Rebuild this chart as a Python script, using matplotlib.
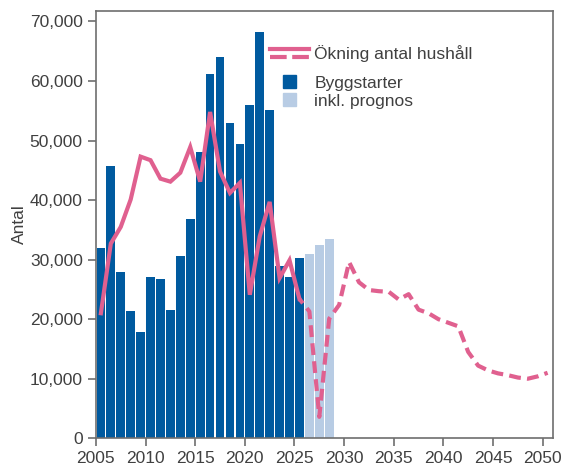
import numpy as np
import matplotlib
matplotlib.use("Agg")
import matplotlib.pyplot as plt
from matplotlib.lines import Line2D
from matplotlib.patches import Patch
from matplotlib.legend_handler import HandlerBase
from matplotlib.ticker import FuncFormatter

# byggstarter (utfall) 2005-2025
bar_years = list(range(2005, 2026))
byggstarter = [31900, 45700, 27900, 21400, 17800, 27100, 26700, 21500, 30600, 36800,
               48000, 61200, 64000, 53000, 49400, 55900, 68200, 55200, 29000, 27100,
               30200]
# prognos
prog_years = [2026, 2027, 2028]
prognos = [30900, 32400, 33500]

# ökning antal hushåll, utfall
hh_years = list(range(2005, 2026))
hushall = [21000, 32700, 35500, 40100, 47300, 46700, 43600, 43100, 44600, 48900,
           43100, 54800, 44800, 41200, 42900, 24100, 33900, 39700, 26900, 29900,
           23400]
# ökning antal hushåll, prognos
hh_prog_years = list(range(2025, 2051))
hushall_prog = [23400, 21300, 3600, 20100, 22400, 29600, 26200, 24900, 24700, 24600,
                23300, 24200, 21600, 21000, 20000, 19400, 18800, 14500, 12200, 11400,
                10900, 10600, 10200, 10000, 10400, 11000]

dark_blue = "#005a9f"
light_blue = "#b8cce4"
pink = "#e0608f"
text_col = "#404040"
spine_col = "#6e6e6e"

plt.rcParams['font.family'] = ['Liberation Sans', 'DejaVu Sans']
plt.rcParams['font.size'] = 12.5
plt.rcParams['lines.scale_dashes'] = False

fig = plt.figure(figsize=(5.61, 4.67), dpi=100)
ax = fig.add_axes([0.171, 0.0615, 0.814, 0.9155])

ax.bar(np.array(bar_years) + 0.5, byggstarter, width=0.88, color=dark_blue, zorder=2)
ax.bar(np.array(prog_years) + 0.5, prognos, width=0.88, color=light_blue, zorder=2)

ax.plot(np.array(hh_years) + 0.5, hushall, color=pink, lw=3, zorder=3,
        solid_joinstyle='miter')
ax.plot(np.array(hh_prog_years) + 0.5, hushall_prog, color=pink, lw=3, zorder=3,
        linestyle=(4.5, (8.5, 4.5)))

ax.set_xlim(2005, 2051)
ax.set_ylim(0, 71800)
ax.set_xticks(range(2005, 2051, 5))
ax.set_yticks(range(0, 70001, 10000))
ax.yaxis.set_major_formatter(FuncFormatter(lambda v, p: f"{int(v):,}"))
ax.set_ylabel("Antal", color=text_col, labelpad=2)

for s in ax.spines.values():
    s.set_color(spine_col)
    s.set_linewidth(1.2)
ax.tick_params(direction='out', length=6, width=1.2, color=spine_col,
               labelcolor=text_col)


class TwoLineHandler(HandlerBase):
    def create_artists(self, legend, orig_handle, xdescent, ydescent,
                       width, height, fontsize, trans):
        y1 = height * 0.85 - ydescent
        y2 = height * 0.2 - ydescent
        l1 = Line2D([-xdescent, width - xdescent], [y1, y1], color=pink, lw=3)
        l2 = Line2D([-xdescent, width - xdescent], [y2, y2], color=pink, lw=3,
                    linestyle=(0, (12, 4)))
        for l in (l1, l2):
            l.set_transform(trans)
        return [l1, l2]


line_h = Line2D([], [], color=pink)
leg1 = ax.legend([line_h], ["Ökning antal hushåll"], handler_map={Line2D: TwoLineHandler()},
                 loc='upper left', bbox_to_anchor=(0.366, 0.935), frameon=False,
                 handlelength=2.25, handletextpad=0.3, borderaxespad=0)
for t in leg1.get_texts():
    t.set_color(text_col)
ax.add_artist(leg1)

leg2 = ax.legend([Patch(color=dark_blue), Patch(color=light_blue)],
                 ["Byggstarter", "inkl. prognos"],
                 loc='upper left', bbox_to_anchor=(0.366, 0.865), frameon=False,
                 handlelength=2.25, handleheight=0.75, handletextpad=0.3,
                 labelspacing=0.15, borderaxespad=0)
for h in leg2.legend_handles:
    h.set_width(9.4)
    h.set_x(9.3)
for t in leg2.get_texts():
    t.set_color(text_col)

fig.savefig("out.png", dpi=100)
